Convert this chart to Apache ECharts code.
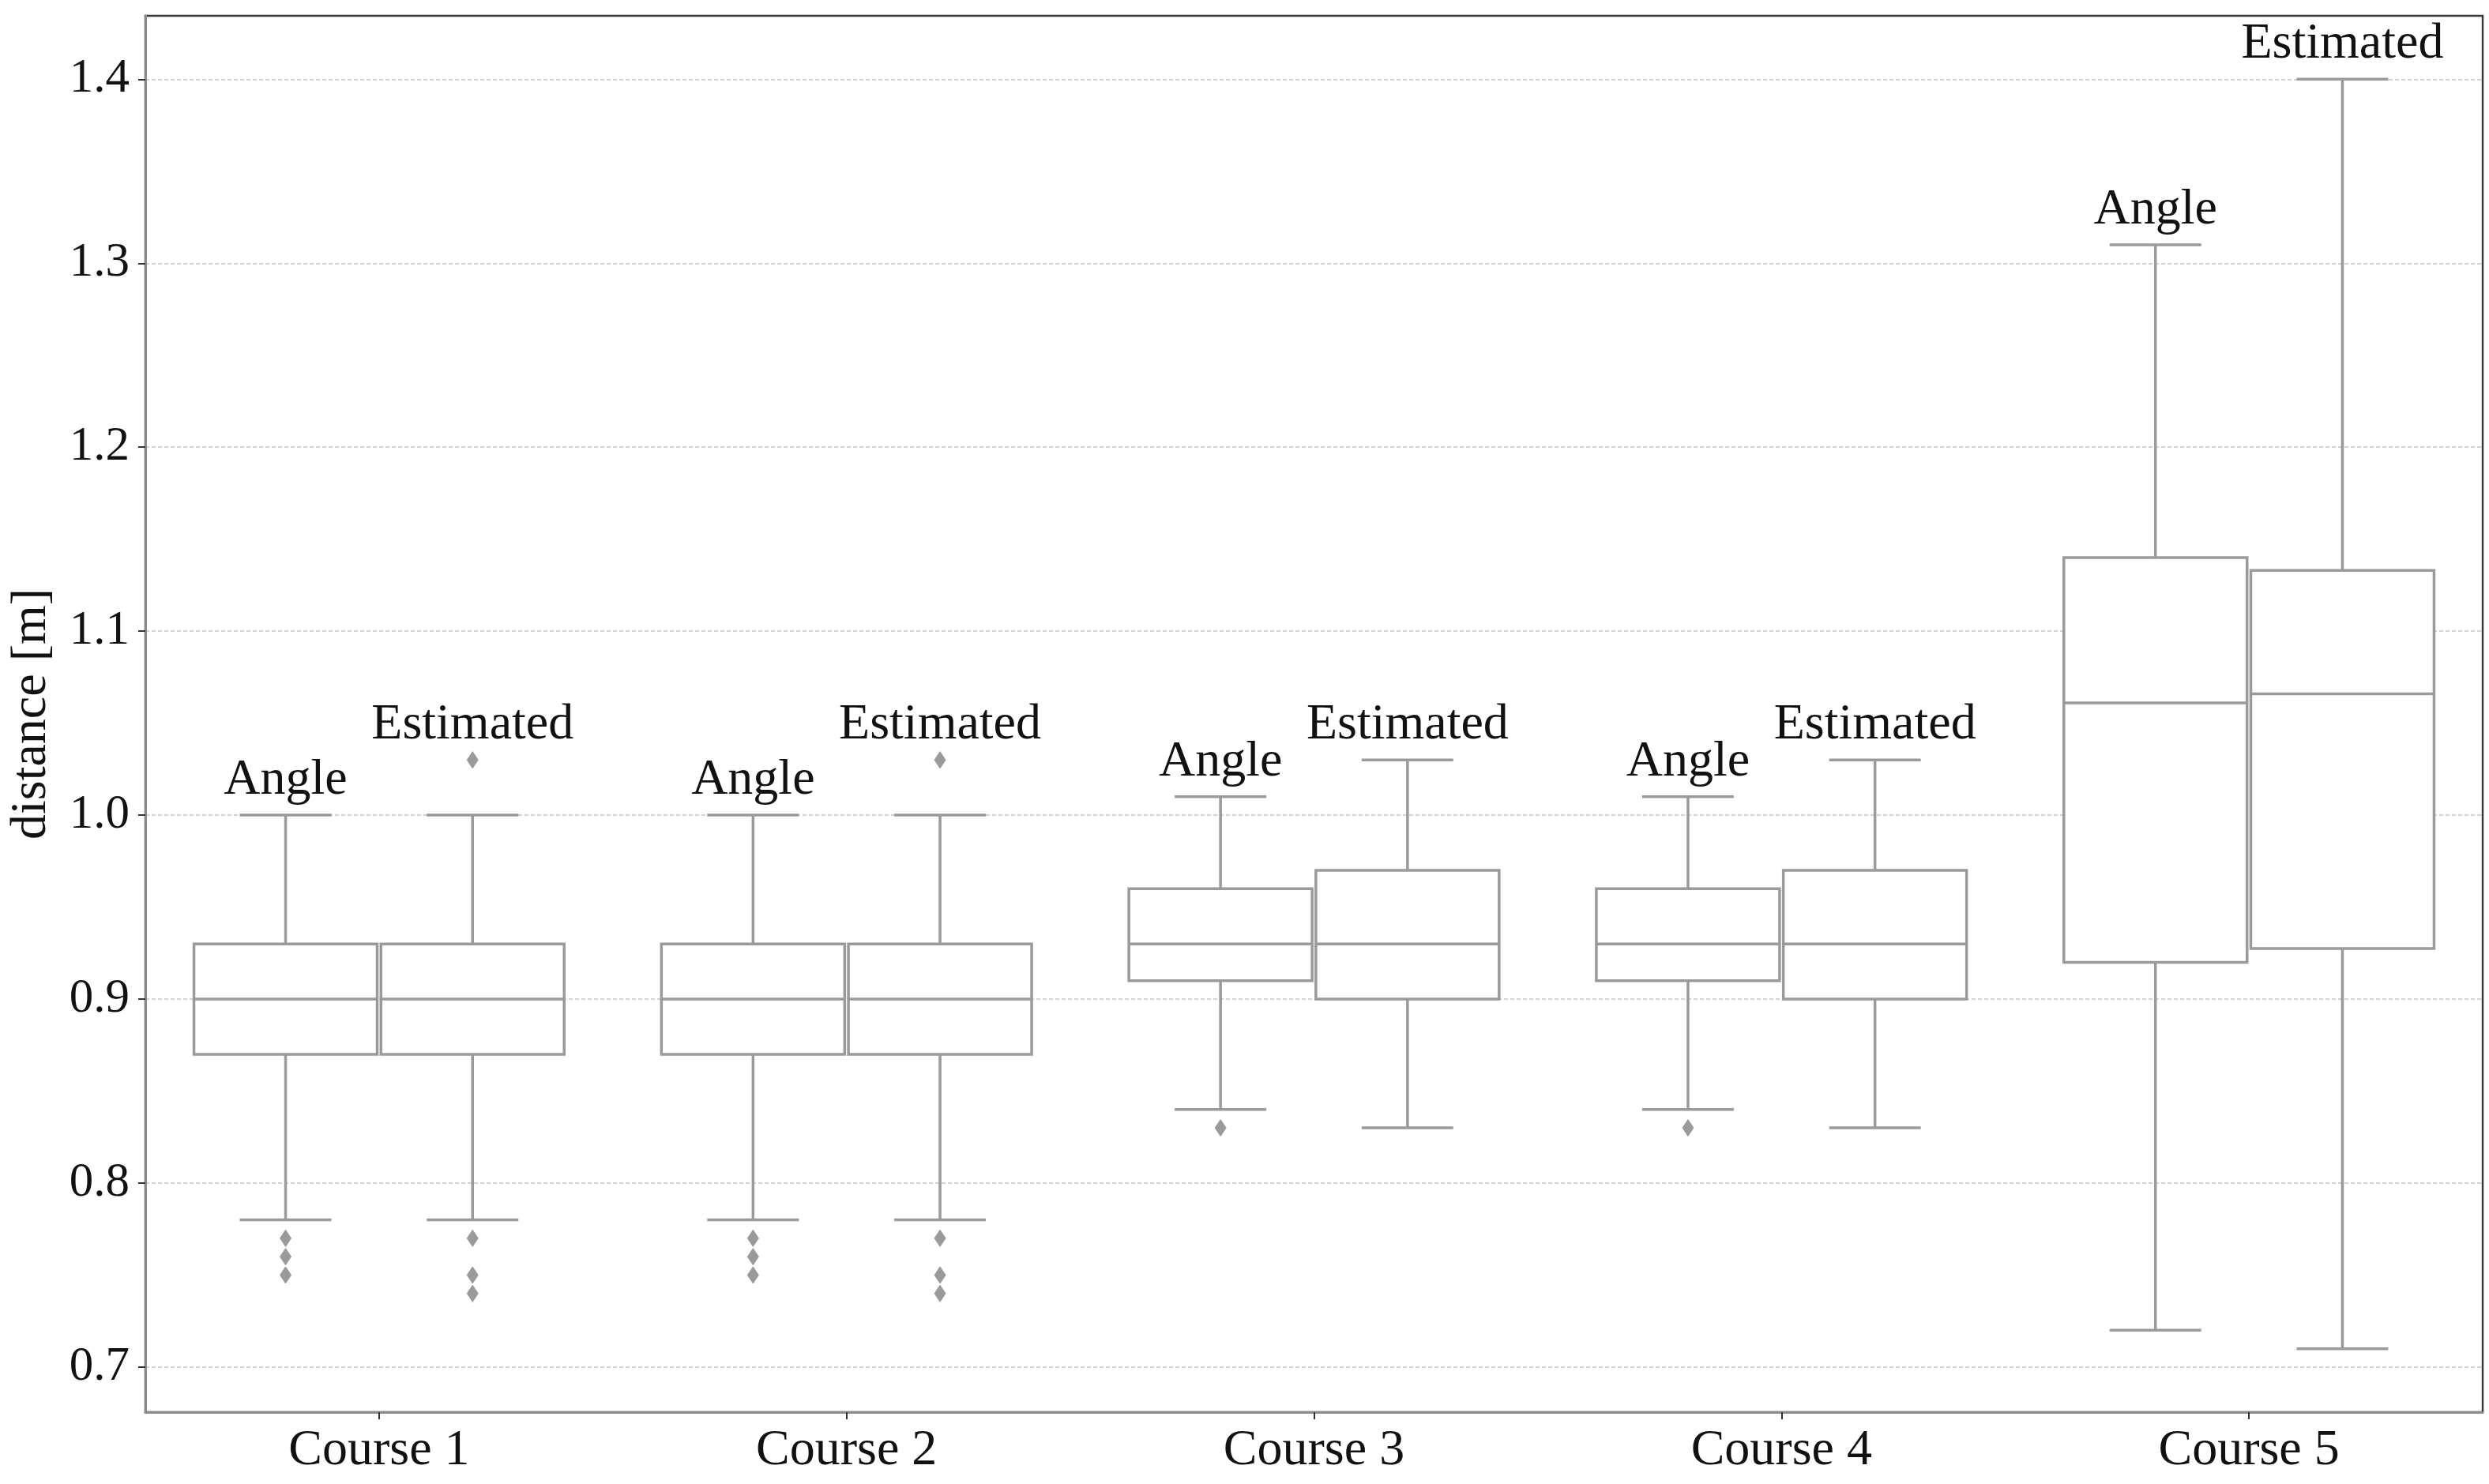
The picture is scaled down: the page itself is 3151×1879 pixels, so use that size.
<!DOCTYPE html>
<html><head><meta charset="utf-8">
<script src="https://cdn.jsdelivr.net/npm/echarts@6/dist/echarts.min.js"></script>
<style>html,body{margin:0;padding:0;background:#fff}#c{width:3151px;height:1879px}</style>
</head><body><div id="c"></div>
<script>
const categories = ['Course 1', 'Course 2', 'Course 3', 'Course 4', 'Course 5'];
const hueNames = ['Angle', 'Estimated'];
// [lower whisker, Q1, median, Q3, upper whisker]
const angleStats = [
  [0.78, 0.87, 0.90, 0.93, 1.00],
  [0.78, 0.87, 0.90, 0.93, 1.00],
  [0.84, 0.91, 0.93, 0.96, 1.01],
  [0.84, 0.91, 0.93, 0.96, 1.01],
  [0.72, 0.92, 1.061, 1.14, 1.31]
];
const estimatedStats = [
  [0.78, 0.87, 0.90, 0.93, 1.00],
  [0.78, 0.87, 0.90, 0.93, 1.00],
  [0.83, 0.90, 0.93, 0.97, 1.03],
  [0.83, 0.90, 0.93, 0.97, 1.03],
  [0.71, 0.9275, 1.066, 1.133, 1.40]
];
// [course index, value]
const angleOutliers = [[0, 0.77], [0, 0.76], [0, 0.75], [1, 0.77], [1, 0.76], [1, 0.75], [2, 0.83], [3, 0.83]];
const estimatedOutliers = [[0, 1.03], [0, 0.77], [0, 0.75], [0, 0.74], [1, 1.03], [1, 0.77], [1, 0.75], [1, 0.74]];
const yTicks = [0.7, 0.8, 0.9, 1.0, 1.1, 1.2, 1.3, 1.4];
const yMin = 0.6755, yMax = 1.4345;

const BOX = '#9a9a9a';
const LW = 3.5;
const FONT = '"Liberation Serif", "Times New Roman", serif';
const FS = 64;
const FS_TICK = 61;

function boxData(stats, outliers) {
  return stats.map((s, i) => {
    let top = s[4];
    outliers.forEach(o => { if (o[0] === i && o[1] > top) top = o[1]; });
    return [i, s[0], s[1], s[2], s[3], s[4], top];
  });
}

function makeBoxRender(hueIdx) {
  return function (params, api) {
    const cat = api.value(0);
    const bw = api.size([1, 0])[0];
    const cx = api.coord([cat, 1])[0] + (hueIdx === 0 ? -0.2 : 0.2) * bw;
    const hw = bw * 0.196;
    const cw = hw * 0.5;
    const y = i => api.coord([cat, api.value(i)])[1];
    const lo = y(1), q1 = y(2), md = y(3), q3 = y(4), hi = y(5), top = y(6);
    const ls = { stroke: BOX, lineWidth: LW, fill: null };
    return {
      type: 'group', children: [
        { type: 'line', shape: { x1: cx, y1: q3, x2: cx, y2: hi }, style: ls },
        { type: 'line', shape: { x1: cx, y1: q1, x2: cx, y2: lo }, style: ls },
        { type: 'line', shape: { x1: cx - cw, y1: hi, x2: cx + cw, y2: hi }, style: ls },
        { type: 'line', shape: { x1: cx - cw, y1: lo, x2: cx + cw, y2: lo }, style: ls },
        { type: 'rect', shape: { x: cx - hw, y: q3, width: 2 * hw, height: q1 - q3 }, style: { stroke: BOX, lineWidth: LW, fill: '#ffffff' } },
        { type: 'line', shape: { x1: cx - hw, y1: md, x2: cx + hw, y2: md }, style: ls },
        { type: 'text', style: { text: hueNames[hueIdx], x: cx, y: top - 12, align: 'center', verticalAlign: 'bottom', fontSize: FS, fontFamily: FONT, fill: '#111111' } }
      ]
    };
  };
}

function makeOutlierRender(hueIdx) {
  return function (params, api) {
    const cat = api.value(0);
    const bw = api.size([1, 0])[0];
    const p = api.coord([cat, api.value(1)]);
    const cx = p[0] + (hueIdx === 0 ? -0.2 : 0.2) * bw;
    const cy = p[1];
    const a = 7, b = 10.5;
    return {
      type: 'polygon',
      shape: { points: [[cx, cy - b], [cx + a, cy], [cx, cy + b], [cx - a, cy]] },
      style: { fill: BOX, stroke: BOX, lineWidth: 1 }
    };
  };
}

const chart = echarts.init(document.getElementById('c'));
chart.setOption({
  backgroundColor: '#ffffff',
  animation: false,
  grid: { left: 184, right: 8, top: 20, bottom: 91, show: true, borderColor: '#3a3a3a', borderWidth: 2.5, backgroundColor: 'transparent', outerBoundsMode: 'none' },
  xAxis: {
    type: 'category', data: categories, boundaryGap: true,
    axisLine: { show: true, lineStyle: { color: '#8a8a8a', width: 3 } },
    axisTick: { show: true, alignWithLabel: true, length: 9, lineStyle: { color: '#333', width: 2 } },
    axisLabel: { margin: 17, fontSize: FS, fontFamily: FONT, color: '#111' },
    splitLine: { show: false }
  },
  yAxis: {
    type: 'value', min: yMin, max: yMax,
    name: 'distance [m]', nameLocation: 'middle', nameRotate: 90, nameGap: 112,
    nameTextStyle: { fontSize: FS, fontFamily: FONT, color: '#111' },
    axisLine: { show: true, lineStyle: { color: '#8a8a8a', width: 3 } },
    axisTick: { show: true, length: 9, customValues: yTicks, lineStyle: { color: '#333', width: 2 } },
    axisLabel: { margin: 20, fontSize: FS_TICK, fontFamily: FONT, color: '#111', customValues: yTicks, formatter: v => v.toFixed(1) },
    splitLine: { show: true, lineStyle: { color: '#d2d2d2', width: 2, type: [5, 3] } }
  },
  series: [
    { type: 'custom', name: 'Angle', renderItem: makeBoxRender(0), data: boxData(angleStats, angleOutliers), encode: { x: 0, y: [1, 2, 3, 4, 5, 6] }, z: 3 },
    { type: 'custom', name: 'Estimated', renderItem: makeBoxRender(1), data: boxData(estimatedStats, estimatedOutliers), encode: { x: 0, y: [1, 2, 3, 4, 5, 6] }, z: 3 },
    { type: 'custom', name: 'Angle outliers', renderItem: makeOutlierRender(0), data: angleOutliers, encode: { x: 0, y: 1 }, z: 4 },
    { type: 'custom', name: 'Estimated outliers', renderItem: makeOutlierRender(1), data: estimatedOutliers, encode: { x: 0, y: 1 }, z: 4 }
  ]
});
</script></body></html>
